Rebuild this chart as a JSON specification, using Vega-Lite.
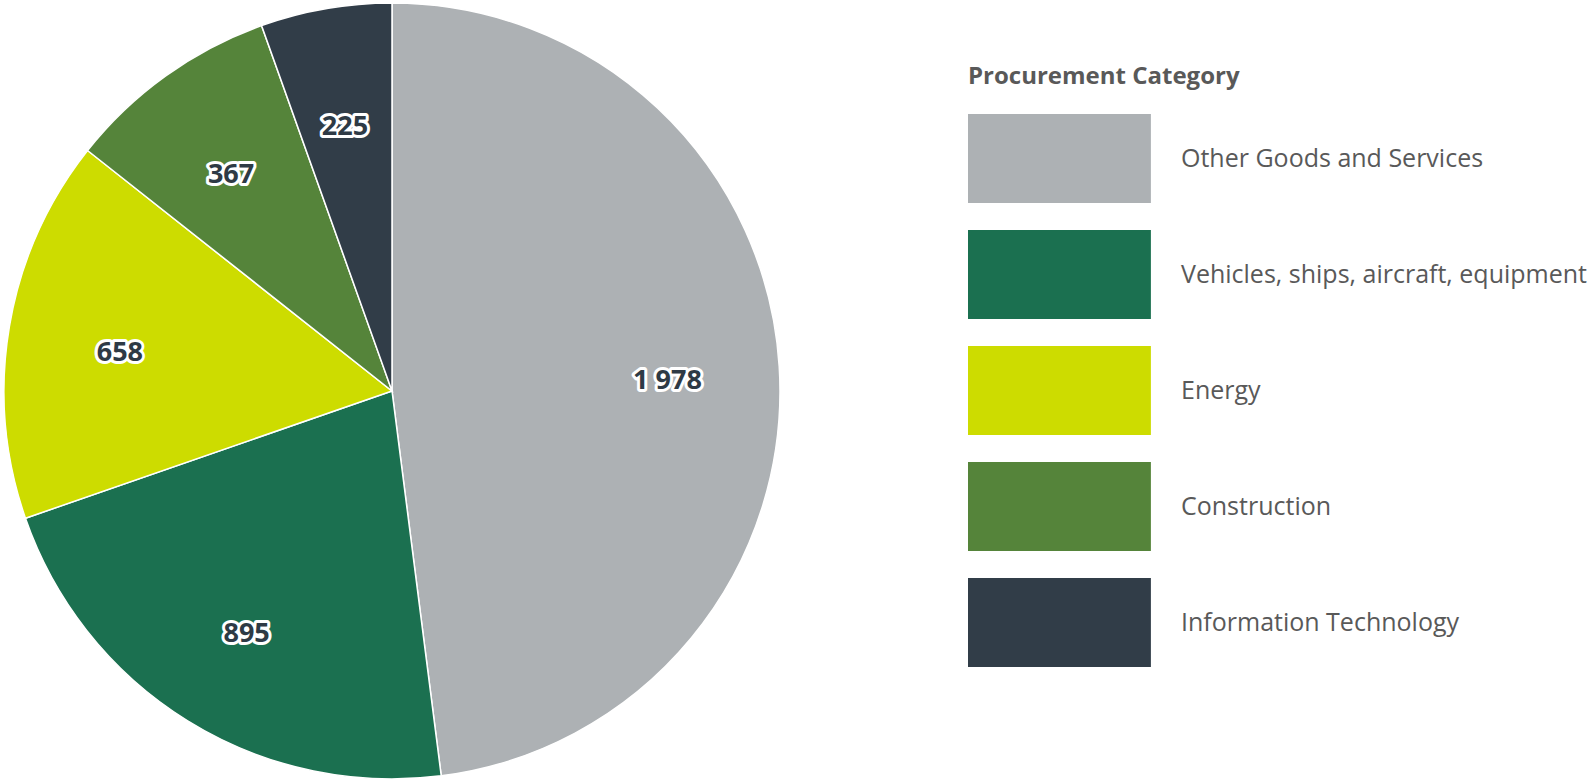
{
  "$schema": "https://vega.github.io/schema/vega-lite/v6.json",
  "width": 784,
  "height": 782,
  "padding": 0,
  "autosize": {"type": "pad"},
  "background": "white",
  "config": {
    "view": {"stroke": null},
    "font": "Open Sans",
    "locale": {"number": {"decimal": ".", "thousands": " ", "grouping": [3], "currency": ["", ""]}}
  },
  "data": {
    "values": [
      {"category": "Other Goods and Services", "value": 1978, "order": 1},
      {"category": "Vehicles, ships, aircraft, equipment", "value": 895, "order": 2},
      {"category": "Energy", "value": 658, "order": 3},
      {"category": "Construction", "value": 367, "order": 4},
      {"category": "Information Technology", "value": 225, "order": 5}
    ]
  },
  "encoding": {
    "theta": {"field": "value", "type": "quantitative", "stack": true},
    "order": {"field": "order", "type": "quantitative"},
    "color": {
      "field": "category",
      "type": "nominal",
      "title": "Procurement Category",
      "scale": {
        "domain": ["Other Goods and Services", "Vehicles, ships, aircraft, equipment", "Energy", "Construction", "Information Technology"],
        "range": ["#ADB1B4", "#1B7050", "#CDDC00", "#55843A", "#313D48"]
      },
      "legend": {
        "orient": "none",
        "legendX": 968,
        "legendY": 65,
        "padding": 0,
        "titleFont": "Open Sans",
        "titleFontSize": 24,
        "titleFontWeight": "bold",
        "titleColor": "#595959",
        "titlePadding": 25,
        "titleLimit": 500,
        "labelFont": "Open Sans",
        "labelFontSize": 25,
        "labelColor": "#595959",
        "labelOffset": 124,
        "labelLimit": 420,
        "symbolType": "M-1,-1L3.11,-1L3.11,1L-1,1Z",
        "symbolSize": 7921,
        "symbolStrokeWidth": 0,
        "symbolOpacity": 1,
        "rowPadding": 27
      }
    }
  },
  "layer": [
    {
      "mark": {"type": "arc", "outerRadius": 388, "stroke": "white", "strokeWidth": 1.5}
    },
    {
      "mark": {"type": "text", "radius": 276, "dy": 8, "fontSize": 27, "fontWeight": "bold", "stroke": "white", "strokeWidth": 6, "strokeJoin": "round", "fill": "white"},
      "encoding": {
        "text": {"field": "value", "type": "quantitative", "format": ","},
        "color": {"value": "white"}
      }
    },
    {
      "mark": {"type": "text", "radius": 276, "dy": 8, "fontSize": 27, "fontWeight": "bold"},
      "encoding": {
        "text": {"field": "value", "type": "quantitative", "format": ","},
        "color": {"value": "#2E3A45"}
      }
    }
  ]
}
